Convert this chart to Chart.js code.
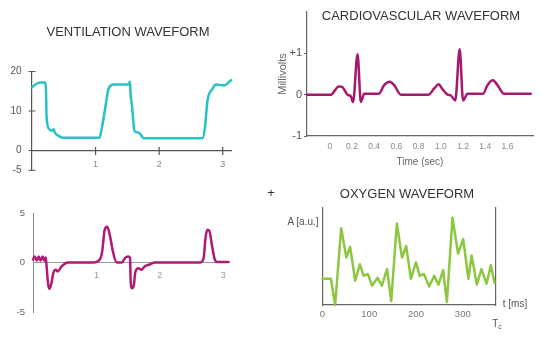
<!DOCTYPE html>
<html>
<head>
<meta charset="utf-8">
<script src="https://cdn.jsdelivr.net/npm/chart.js@4.4.0/dist/chart.umd.min.js"></script>
<style>
  body { margin: 0; background: #fff; }
  #wrap { position: relative; width: 540px; height: 341px; overflow: hidden; font-family: 'Liberation Sans', Arial, sans-serif; }
  #wrap canvas { position: absolute; left: 0; top: 0; }
  .lbl { position: absolute; transform: translate(-50%, -50%); line-height: 1; white-space: nowrap; color: #555; font-size: 10px; }
  .title { font-size: 13px; color: #333; }
  .lbl sub { font-size: 7px; vertical-align: -2px; }
</style>
</head>
<body>
<div id="wrap">
  <canvas id="ventPressureChart" width="540" height="341"></canvas>
  <canvas id="ventFlowChart" width="540" height="341"></canvas>
  <canvas id="ecgChart" width="540" height="341"></canvas>
  <canvas id="oxyChart" width="540" height="341"></canvas>

  <div class="lbl title" style="left:128px;top:31px">VENTILATION WAVEFORM</div>
  <div class="lbl title" style="left:421px;top:15px">CARDIOVASCULAR WAVEFORM</div>
  <div class="lbl title" style="left:407px;top:193px">OXYGEN WAVEFORM</div>
  <div class="lbl title" style="left:271px;top:192px">+</div>
  <div class="lbl" style="left:303px;top:222px">A [a.u.]</div>
  <div class="lbl" style="left:515px;top:304px">t [ms]</div>
  <div class="lbl" style="left:497px;top:324px">T<sub>c</sub></div>
</div>
<script>
// ===== DATA =====
// ventilation pressure (top left)
const ventTime     = [0, 0.07, 0.15, 0.21, 0.22, 0.23, 0.27, 0.31, 0.34, 0.36, 0.42, 0.49, 1.06, 1.10, 1.17, 1.20, 1.28, 1.52, 1.54, 1.55, 1.575, 1.61, 1.68, 1.76, 2.68, 2.72, 2.76, 2.84, 2.89, 3.02, 3.13];
const ventPressure = [16, 16.9, 17.2, 17.2, 15.2, 8.4, 5.4, 5, 5.4, 4.5, 3.7, 3.2, 3.2, 5.8, 12.6, 15.4, 16.7, 16.7, 17.5, 14.4, 11, 5, 4.5, 3.1, 3.1, 5.8, 12.6, 15.6, 16.7, 16.5, 17.8];
const ventXTicks   = [1, 2, 3];
const ventYTicks   = [-5, 0, 10, 20];

// ventilation flow (bottom left)
const flowTime   = [0, 0.03, 0.06, 0.09, 0.12, 0.15, 0.18, 0.2, 0.21, 0.24, 0.26, 0.29, 0.32, 0.36, 0.39, 0.45, 0.55, 0.95, 1.05, 1.09, 1.13, 1.17, 1.21, 1.26, 1.32, 1.40, 1.45, 1.50, 1.53, 1.54, 1.56, 1.59, 1.61, 1.66, 1.71, 1.76, 1.84, 1.92, 2.63, 2.69, 2.72, 2.75, 2.78, 2.82, 2.86, 2.90, 3.08];
const flowValues = [0.3, 0.6, 0.2, 0.6, 0.2, 0.6, 0.2, 0.5, -0.06, -2.25, -2.65, -2.1, -1.07, -0.74, -0.9, -0.4, 0, 0, 0.27, 1.1, 3.3, 3.6, 2.8, 1.1, 0, 0, 0.45, 0.6, 0.5, -1.9, -2.6, -2.3, -1.07, -0.57, -0.74, -0.4, -0.2, 0, 0, 0.45, 2.5, 3.3, 3.2, 1.8, 0.45, 0.05, 0.05];
const flowXTicks = [1, 2, 3];
const flowYTicks = [-5, 0, 5];

// cardiovascular (top right)
const ecgTime       = [-0.205, 0.01, 0.08, 0.11, 0.16, 0.19, 0.21, 0.25, 0.28, 0.31, 0.44, 0.49, 0.54, 0.58, 0.64, 0.89, 0.94, 0.98, 1.01, 1.06, 1.09, 1.13, 1.17, 1.2, 1.24, 1.38, 1.42, 1.47, 1.51, 1.57, 1.81];
const ecgMillivolts = [0, 0, 0.2, 0.19, 0, -0.04, -0.18, 0.98, -0.18, 0.02, 0.02, 0.23, 0.31, 0.23, 0, 0, 0.15, 0.25, 0.15, 0, -0.02, -0.14, 1.1, -0.14, 0.02, 0.02, 0.23, 0.35, 0.23, 0.02, 0.02];
const ecgXTicks     = [0, 0.2, 0.4, 0.6, 0.8, 1.0, 1.2, 1.4, 1.6];
const ecgYTicks     = [-1, 0, 1];

// oxygen (bottom right)
const oxyTime      = [0, 18, 27, 40, 51, 59, 70, 80, 88, 97, 106, 118, 127, 138, 147, 159, 170, 179, 189, 200, 208, 217, 228, 239, 248, 258, 266, 278, 290, 301, 312, 319, 330, 340, 351, 360, 368];
const oxyAmplitude = [27, 27, 0, 79, 49, 60, 25, 42, 30, 32, 20, 28, 20, 37, 4, 84, 49, 61, 27, 44, 30, 32, 19, 30, 21, 36, 3, 90, 53, 68, 27, 51, 21, 37, 22, 41, 23];
const oxyXTicks    = [0, 100, 200, 300];

// ===== HELPERS =====
Chart.defaults.font.family = "'Liberation Sans', Arial, sans-serif";
Chart.defaults.animation = false;

function points(xs, ys) {
  return xs.map((x, i) => ({ x, y: ys[i] }));
}

function fixTicks(values) {
  return scale => { scale.ticks = values.map(value => ({ value })); };
}

function lineDataset(data, color, smooth) {
  return {
    data,
    borderColor: color,
    borderWidth: 2.5,
    pointRadius: 0,
    cubicInterpolationMode: smooth ? 'monotone' : 'default',
    tension: 0,
    borderJoinStyle: 'round',
    borderCapStyle: 'round',
    clip: false,
  };
}

function baseOptions(padding) {
  return {
    responsive: false,
    events: [],
    layout: { padding },
    plugins: { legend: { display: false }, tooltip: { enabled: false } },
  };
}

// tick marks that cross the axis lines (ventilation chart)
function crossTicks(color, xValues, yValues) {
  return {
    id: 'crossTicks',
    afterDraw(chart) {
      const { ctx, scales: { x, y } } = chart;
      const x0 = x.getPixelForValue(0);
      const y0 = y.getPixelForValue(0);
      ctx.save();
      ctx.strokeStyle = color;
      ctx.lineWidth = 1.2;
      ctx.beginPath();
      xValues.forEach(v => {
        const px = x.getPixelForValue(v);
        ctx.moveTo(px, y0 - 3.5);
        ctx.lineTo(px, y0 + 4.5);
      });
      yValues.forEach(v => {
        const py = y.getPixelForValue(v);
        ctx.moveTo(x0 - 3.5, py);
        ctx.lineTo(x0 + 3.5, py);
      });
      ctx.stroke();
      ctx.restore();
    }
  };
}

// ===== CHARTS =====
new Chart(document.getElementById('ventPressureChart'), {
  type: 'line',
  data: { datasets: [lineDataset(points(ventTime, ventPressure), '#26c2c4', true)] },
  options: {
    ...baseOptions({ left: 0, top: 71.5, right: 309, bottom: 170.75 }),
    scales: {
      x: {
        type: 'linear', min: 0, max: 3.13, position: { y: 0 },
        afterFit: s => { s.height = 0; },
        afterBuildTicks: fixTicks(ventXTicks),
        grid: { display: false, drawTicks: false },
        border: { color: '#555', width: 1.2 },
        ticks: { padding: 8.5, color: '#888', font: { size: 9 } },
      },
      y: {
        min: -5, max: 20,
        afterFit: s => { s.width = 32; },
        afterBuildTicks: fixTicks(ventYTicks),
        grid: { display: false, drawTicks: false },
        border: { color: '#555', width: 1.2 },
        ticks: { padding: 10.5, color: '#555', font: { size: 10 } },
      }
    }
  },
  plugins: [crossTicks('#555', ventXTicks, ventYTicks)]
});

new Chart(document.getElementById('ventFlowChart'), {
  type: 'line',
  data: { datasets: [lineDataset(points(flowTime, flowValues), '#b01a73', true)] },
  options: {
    ...baseOptions({ left: 0, top: 213, right: 311, bottom: 29 }),
    scales: {
      x: {
        type: 'linear', min: 0, max: 3.09, position: { y: 0 },
        afterFit: s => { s.height = 0; },
        afterBuildTicks: fixTicks(flowXTicks),
        grid: { display: false, drawTicks: false },
        border: { color: '#999', width: 1 },
        ticks: { padding: 8, color: '#999', font: { size: 9 } },
      },
      y: {
        min: -5, max: 5,
        afterFit: s => { s.width = 33; },
        afterBuildTicks: fixTicks(flowYTicks),
        grid: { display: false, drawTicks: false },
        border: { color: '#888', width: 1 },
        ticks: { padding: 8, color: '#666', font: { size: 9.5 } },
      }
    }
  }
});

new Chart(document.getElementById('ecgChart'), {
  type: 'line',
  data: { datasets: [lineDataset(points(ecgTime, ecgMillivolts), '#a8186c', true)] },
  options: {
    ...baseOptions({ left: 276, top: 12, right: 7, bottom: 173 }),
    scales: {
      x: {
        type: 'linear', min: -0.205, max: 1.83,
        afterFit: s => { s.height = 32; },
        afterBuildTicks: fixTicks(ecgXTicks),
        grid: { display: false, drawTicks: false },
        border: { color: '#666', width: 1.2 },
        ticks: {
          padding: 6, color: '#888', font: { size: 8.5 },
          callback: v => v === 0 ? '0' : v.toFixed(1),
        },
        title: { display: true, text: 'Time (sec)', color: '#666', font: { size: 10 }, padding: 0 },
      },
      y: {
        min: -1, max: 2,
        afterFit: s => { s.width = 31; },
        afterBuildTicks: fixTicks(ecgYTicks),
        grid: { display: true, drawOnChartArea: false, drawTicks: true, tickLength: 3, color: '#666' },
        border: { color: '#666', width: 1.2 },
        ticks: {
          padding: 2, color: '#555', font: { size: 11 },
          callback: v => v > 0 ? '+' + v : String(v),
        },
        title: { display: true, text: 'Millivolts', color: '#666', font: { size: 11 }, padding: 0 },
      }
    }
  }
});

new Chart(document.getElementById('oxyChart'), {
  type: 'line',
  data: { datasets: [lineDataset(points(oxyTime, oxyAmplitude), '#8dc63f', false)] },
  options: {
    ...baseOptions({ left: 322.5, top: 208, right: 44.5, bottom: 0 }),
    scales: {
      x: {
        type: 'linear', min: 0, max: 370,
        afterFit: s => { s.height = 36; },
        afterBuildTicks: fixTicks(oxyXTicks),
        grid: { display: false, drawTicks: false },
        border: { color: '#666', width: 1.2 },
        ticks: { padding: 4, color: '#777', font: { size: 9.5 } },
      },
      y: {
        min: 0, max: 100,
        afterFit: s => { s.width = 0; },
        grid: { display: false, drawTicks: false },
        border: { color: '#666', width: 1.2 },
        ticks: { display: false },
      },
      y2: {
        type: 'linear', position: 'right', min: 0, max: 100,
        afterFit: s => { s.width = 0; },
        grid: { display: false, drawTicks: false },
        border: { color: '#666', width: 1.2 },
        ticks: { display: false },
      }
    }
  }
});
</script>
</body>
</html>
